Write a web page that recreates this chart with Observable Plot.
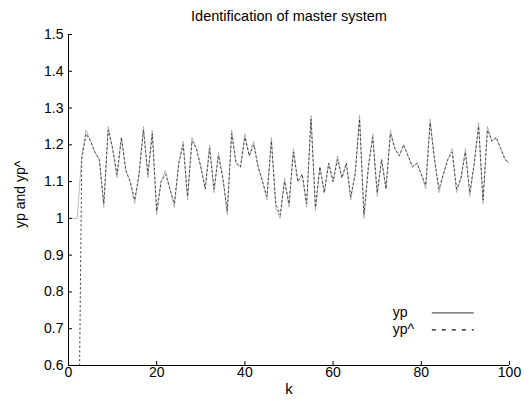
<!DOCTYPE html>
<html>
<head>
<meta charset="utf-8">
<script src="https://cdn.jsdelivr.net/npm/d3@7"></script>
<script src="https://cdn.jsdelivr.net/npm/@observablehq/plot@0.6"></script>
<style>
  html, body { margin: 0; padding: 0; background: #fff; }
  svg { display: block; }
</style>
</head>
<body>
<div id="chart"></div>
<script>
const title = "Identification of master system";
const xLabel = "k";
const yLabel = "yp and yp^";
const xTicks = [0, 20, 40, 60, 80, 100];
const yTicks = [0.6, 0.7, 0.8, 0.9, 1.0, 1.1, 1.2, 1.3, 1.4, 1.5];
const seriesNames = ["yp", "yp^"];

const k = d3.range(0, 101);
const yp = [
  1.00, 1.00, 1.00, 1.17, 1.24, 1.21, 1.18, 1.16, 1.03, 1.25,
  1.19, 1.11, 1.22, 1.13, 1.10, 1.04, 1.12, 1.25, 1.11, 1.24,
  1.01, 1.10, 1.13, 1.08, 1.03, 1.15, 1.21, 1.05, 1.22, 1.19,
  1.14, 1.08, 1.20, 1.07, 1.18, 1.11, 1.01, 1.24, 1.15, 1.14,
  1.23, 1.17, 1.21, 1.14, 1.10, 1.05, 1.22, 1.03, 1.00, 1.11,
  1.03, 1.19, 1.10, 1.12, 1.03, 1.28, 1.02, 1.14, 1.07, 1.15,
  1.10, 1.17, 1.11, 1.15, 1.05, 1.12, 1.28, 1.00, 1.14, 1.23,
  1.06, 1.16, 1.08, 1.24, 1.19, 1.17, 1.20, 1.17, 1.14, 1.15,
  1.12, 1.08, 1.27, 1.16, 1.07, 1.12, 1.16, 1.19, 1.07, 1.11,
  1.19, 1.06, 1.15, 1.26, 1.04, 1.25, 1.21, 1.22, 1.19, 1.16,
  1.15
];
const ypHat = [
  0.00, 0.00, 0.00, 1.16, 1.23, 1.21, 1.18, 1.16, 1.04, 1.24,
  1.19, 1.12, 1.22, 1.13, 1.10, 1.05, 1.12, 1.24, 1.12, 1.23,
  1.02, 1.10, 1.12, 1.08, 1.04, 1.15, 1.20, 1.06, 1.21, 1.19,
  1.14, 1.08, 1.19, 1.08, 1.17, 1.11, 1.02, 1.23, 1.15, 1.14,
  1.22, 1.17, 1.20, 1.14, 1.10, 1.06, 1.21, 1.04, 1.01, 1.10,
  1.04, 1.18, 1.10, 1.12, 1.04, 1.27, 1.03, 1.14, 1.07, 1.15,
  1.10, 1.16, 1.11, 1.15, 1.06, 1.12, 1.27, 1.01, 1.14, 1.22,
  1.07, 1.16, 1.08, 1.23, 1.19, 1.17, 1.20, 1.17, 1.14, 1.15,
  1.12, 1.09, 1.26, 1.16, 1.08, 1.12, 1.16, 1.18, 1.08, 1.11,
  1.18, 1.07, 1.15, 1.25, 1.05, 1.24, 1.21, 1.22, 1.19, 1.16,
  1.15
];

// legend placement in data space (bottom-right of plot area)
const legendTextX = 73.5;
const legendLineX = [82.5, 92];
const legendY = [0.743, 0.697];

const dataYp = k.map((kk, i) => ({k: kk, v: yp[i]}));
const dataHat = k.map((kk, i) => ({k: kk, v: ypHat[i]}));
const legendRows = seriesNames.map((name, i) => ({name, y: legendY[i], x1: legendLineX[0], x2: legendLineX[1], dash: i === 1}));

const fmt = d => String(+d.toFixed(1));
const font = "Liberation Sans, Arial, Helvetica, sans-serif";

const chart = Plot.plot({
  width: 529,
  height: 402,
  marginLeft: 68,
  marginRight: 20,
  marginTop: 34,
  marginBottom: 37,
  style: {fontFamily: font, fontSize: "14px", color: "#000", background: "#fff"},
  x: {domain: [0, 100]},
  y: {domain: [0.6, 1.5]},
  marks: [
    Plot.line(dataYp, {x: "k", y: "v", stroke: "#aaa", strokeWidth: 0.8, clip: true}),
    Plot.line(dataHat, {x: "k", y: "v", stroke: "#333", strokeWidth: 0.9, strokeDasharray: "1.5,3", clip: true}),
    Plot.ruleX([0], {stroke: "#000", strokeWidth: 1}),
    Plot.ruleY([0.6], {stroke: "#000", strokeWidth: 1}),
    Plot.axisY(yTicks, {tickSize: -4, tickFormat: () => "", label: null}),
    Plot.axisY(yTicks, {tickSize: 0, tickPadding: 5, tickFormat: fmt, label: null, fontSize: 14}),
    Plot.axisX(xTicks, {tickSize: -4, tickFormat: () => "", label: null}),
    Plot.axisX(xTicks, {tickSize: 0, tickPadding: 2, tickFormat: fmt, label: null, fontSize: 14}),
    Plot.text([title], {frameAnchor: "top", dy: -18, fontSize: 14.5, lineAnchor: "middle"}),
    Plot.text([xLabel], {frameAnchor: "bottom", dy: 24, fontSize: 15, lineAnchor: "middle"}),
    Plot.text([yLabel], {frameAnchor: "left", dx: -48, dy: 28, rotate: -90, fontSize: 14, lineAnchor: "middle"}),
    Plot.text(legendRows, {x: legendTextX, y: "y", text: "name", textAnchor: "start", fontSize: 14, lineAnchor: "middle"}),
    Plot.ruleY(legendRows.filter(d => !d.dash), {y: "y", x1: "x1", x2: "x2", stroke: "#333", strokeWidth: 1}),
    Plot.ruleY(legendRows.filter(d => d.dash), {y: "y", x1: "x1", x2: "x2", stroke: "#111", strokeWidth: 1.2, strokeDasharray: "4,6"})
  ]
});
document.getElementById("chart").appendChild(chart);
</script>
</body>
</html>
